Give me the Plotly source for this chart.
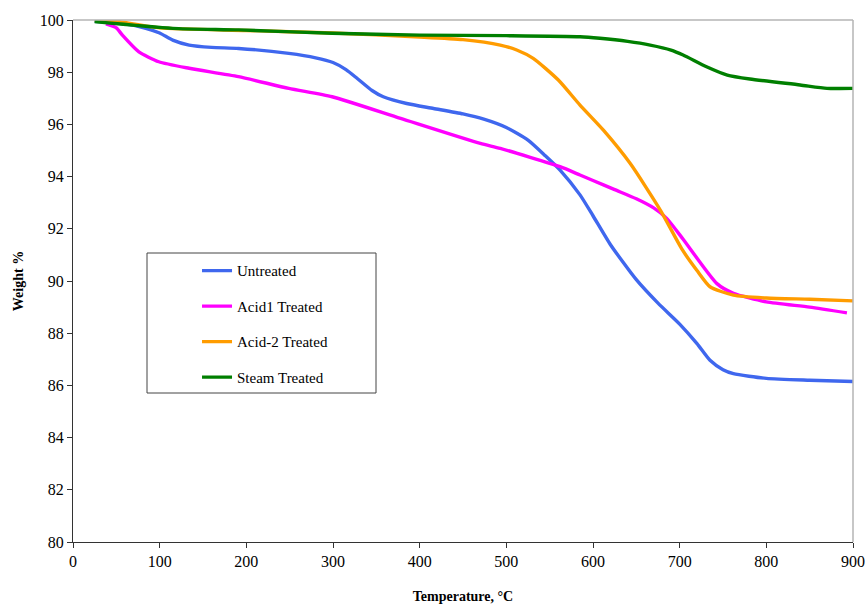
import plotly.graph_objects as go

# ---- data ----
untreated_T = [25, 60, 84, 100, 115, 134, 160, 191, 249, 280, 300, 315, 328, 345, 358, 385, 416, 450, 474, 500, 525, 545, 562, 585, 600, 620, 650, 675, 700, 720, 735, 750, 762, 800, 850, 900]
untreated_W = [99.95, 99.85, 99.68, 99.5, 99.23, 99.04, 98.95, 98.91, 98.72, 98.55, 98.37, 98.1, 97.76, 97.3, 97.06, 96.8, 96.61, 96.4, 96.2, 95.88, 95.4, 94.8, 94.25, 93.3, 92.5, 91.4, 90.05, 89.15, 88.35, 87.6, 86.96, 86.6, 86.45, 86.27, 86.2, 86.15]

acid1_T = [38, 50, 57, 76, 99, 134, 191, 249, 299, 378, 470, 493, 562, 585, 600, 625, 650, 670, 685, 704, 743, 762, 800, 850, 893]
acid1_W = [99.85, 99.7, 99.42, 98.78, 98.4, 98.15, 97.83, 97.38, 97.06, 96.23, 95.27, 95.08, 94.38, 94.06, 93.85, 93.5, 93.15, 92.8, 92.4, 91.6, 89.9, 89.53, 89.2, 89.0, 88.78]

acid2_T = [25, 50, 100, 200, 300, 400, 450, 493, 512, 531, 560, 585, 612, 643, 678, 703, 720, 735, 762, 800, 850, 900]
acid2_W = [100.0, 99.95, 99.7, 99.6, 99.5, 99.35, 99.25, 99.04, 98.85, 98.53, 97.7, 96.74, 95.78, 94.5, 92.7, 91.2, 90.4, 89.78, 89.46, 89.35, 89.3, 89.24]

steam_T = [25, 115, 191, 299, 400, 500, 585, 608, 640, 666, 690, 704, 731, 755, 781, 839, 870, 900]
steam_W = [99.94, 99.68, 99.62, 99.49, 99.42, 99.4, 99.36, 99.3, 99.18, 99.04, 98.85, 98.66, 98.21, 97.89, 97.74, 97.51, 97.38, 97.38]

series = [
    ("Untreated", untreated_T, untreated_W, "#3f67ee"),
    ("Acid1 Treated", acid1_T, acid1_W, "#ff00ff"),
    ("Acid-2 Treated", acid2_T, acid2_W, "#ff9c00"),
    ("Steam Treated", steam_T, steam_W, "#007f00"),
]

x_ticks = list(range(0, 901, 100))
y_ticks = list(range(80, 101, 2))

FONT = "Liberation Serif, Times New Roman, serif"

fig = go.Figure()
for i, (name, xs, ys, col) in enumerate(series):
    fig.add_trace(go.Scatter(x=xs, y=ys, mode="lines", name=name,
                             line=dict(color=col, width=3.4, shape="spline", smoothing=0.6),
                             legendgroup=f"g{i}"))

fig.update_layout(
    width=865, height=604,
    margin=dict(l=73, r=12, t=20, b=62),
    plot_bgcolor="white", paper_bgcolor="white",
    font=dict(family=FONT, color="black", size=16),
    showlegend=True,
    legend=dict(x=0.159, y=0.551, xanchor="left", yanchor="top",
                bgcolor="rgba(0,0,0,0)", borderwidth=0,
                font=dict(family=FONT, size=15, color="black"),
                tracegroupgap=13, itemwidth=30),
    xaxis=dict(range=[0, 900], tickvals=x_ticks, ticktext=[str(v) for v in x_ticks],
               showgrid=False, zeroline=False, showline=True, linecolor="#333333", linewidth=1,
               ticks="outside", ticklen=5, tickcolor="#333333", automargin=False,
               title=dict(text="<b>Temperature, °C</b>", font=dict(size=14, family=FONT), standoff=22)),
    yaxis=dict(range=[80, 100], tickvals=y_ticks, ticktext=[str(v) for v in y_ticks],
               showgrid=False, zeroline=False, showline=True, linecolor="#333333", linewidth=1,
               ticks="outside", ticklen=5, tickcolor="#333333", automargin=False,
               title=dict(text="<b>Weight %</b>", font=dict(size=14, family=FONT), standoff=12)),
)

# light grey top/right frame
fig.add_shape(type="line", xref="paper", yref="paper", x0=0, x1=1, y0=1, y1=1,
              line=dict(color="#b5b5b5", width=1.5))
fig.add_shape(type="line", xref="paper", yref="paper", x0=1, x1=1, y0=0, y1=1,
              line=dict(color="#b5b5b5", width=1.5))
# legend box
fig.add_shape(type="rect", xref="paper", yref="paper",
              x0=(147 - 73) / 780, x1=(376 - 73) / 780,
              y0=(542 - 393) / 522, y1=(542 - 253) / 522,
              line=dict(color="#444444", width=1), fillcolor="rgba(0,0,0,0)", layer="below")

fig.write_html("out.html", config={"displayModeBar": False},
               post_script="document.body.style.margin='0';document.body.style.padding='0';")
